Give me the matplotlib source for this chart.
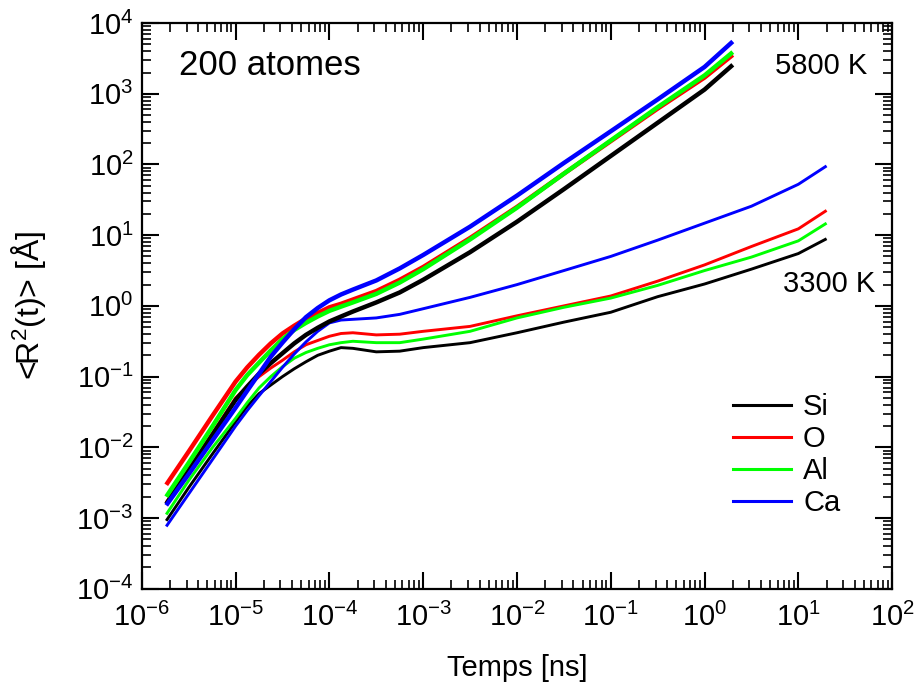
import numpy as np
import matplotlib
matplotlib.use("Agg")
import matplotlib.pyplot as plt
from matplotlib.ticker import LogLocator, NullFormatter, LogFormatterMathtext

plt.rcParams['font.family'] = ['Liberation Sans', 'DejaVu Sans']
plt.rcParams['mathtext.fontset'] = 'custom'
plt.rcParams['mathtext.rm'] = 'Liberation Sans'
plt.rcParams['mathtext.it'] = 'Liberation Sans:italic'
plt.rcParams['mathtext.bf'] = 'Liberation Sans:bold'

# time [ns]
t_5800 = [1.82e-6, 3.16e-6, 5.62e-6, 1.0e-5, 1.33e-5, 1.78e-5, 2.37e-5, 3.16e-5, 4.22e-5,
          5.62e-5, 7.50e-5, 1.0e-4, 1.33e-4, 1.78e-4, 3.16e-4, 5.62e-4, 1e-3, 3.16e-3,
          1e-2, 3.16e-2, 0.1, 0.316, 1.0, 2.0]
t_3300 = [1.82e-6, 3.16e-6, 5.62e-6, 1.0e-5, 1.33e-5, 1.78e-5, 2.37e-5, 3.16e-5, 4.22e-5,
          5.62e-5, 7.50e-5, 1.0e-4, 1.33e-4, 1.78e-4, 3.16e-4, 5.62e-4, 1e-3, 3.16e-3,
          1e-2, 3.16e-2, 0.1, 0.316, 1.0, 3.16, 10.0, 20.0]

# <R^2(t)> [A] at 5800 K
si_5800 = [1.58e-3, 4.68e-3, 1.48e-2, 4.68e-2, 7.24e-2, 0.110, 0.155, 0.214, 0.295,
           0.389, 0.490, 0.603, 0.708, 0.832, 1.12, 1.55, 2.34, 5.75,
           15.5, 44.7, 132, 389, 1148, 2570]
o_5800 = [2.95e-3, 8.71e-3, 2.75e-2, 8.51e-2, 0.135, 0.204, 0.295, 0.407, 0.525,
          0.661, 0.794, 0.955, 1.07, 1.23, 1.62, 2.34, 3.55, 9.12,
          25.1, 74.1, 214, 617, 1698, 3548]
al_5800 = [2.00e-3, 6.03e-3, 1.95e-2, 6.46e-2, 0.105, 0.158, 0.234, 0.339, 0.457,
           0.575, 0.708, 0.851, 0.977, 1.12, 1.48, 2.14, 3.31, 8.71,
           24.5, 74.1, 219, 646, 1820, 3890]
ca_5800 = [1.51e-3, 4.17e-3, 1.23e-2, 3.63e-2, 6.31e-2, 0.110, 0.191, 0.302, 0.468,
           0.692, 0.933, 1.20, 1.45, 1.70, 2.29, 3.39, 5.25, 13.2,
           36.3, 105, 295, 832, 2399, 5495]

# <R^2(t)> [A] at 3300 K
si_3300 = [9.12e-4, 2.69e-3, 7.94e-3, 2.29e-2, 3.80e-2, 5.75e-2, 7.59e-2, 0.100, 0.129,
           0.162, 0.200, 0.229, 0.257, 0.251, 0.224, 0.229, 0.257, 0.302,
           0.417, 0.589, 0.813, 1.35, 2.04, 3.31, 5.50, 8.91]
o_3300 = [1.66e-3, 5.01e-3, 1.58e-2, 5.01e-2, 7.24e-2, 0.100, 0.132, 0.170, 0.224,
          0.282, 0.324, 0.372, 0.407, 0.417, 0.389, 0.398, 0.437, 0.513,
          0.724, 1.00, 1.38, 2.24, 3.80, 6.92, 12.3, 22.4]
al_3300 = [1.12e-3, 3.39e-3, 9.77e-3, 2.57e-2, 4.27e-2, 6.92e-2, 0.100, 0.138, 0.182,
           0.219, 0.251, 0.282, 0.302, 0.316, 0.302, 0.302, 0.339, 0.437,
           0.676, 0.955, 1.29, 1.95, 3.16, 4.90, 8.32, 14.8]
ca_3300 = [7.59e-4, 2.19e-3, 6.61e-3, 2.00e-2, 3.31e-2, 5.37e-2, 8.51e-2, 0.135, 0.209,
           0.309, 0.437, 0.575, 0.631, 0.646, 0.676, 0.759, 0.912, 1.32,
           2.00, 3.16, 5.01, 8.51, 14.8, 25.7, 52.5, 95.5]

species = ['Si', 'O', 'Al', 'Ca']
colors = ['#000000', '#ff0000', '#00ff00', '#0000ff']
series_3300 = [si_3300, o_3300, al_3300, ca_3300]
series_5800 = [si_5800, o_5800, al_5800, ca_5800]

fig = plt.figure(figsize=(9.15, 7.0), dpi=100)
ax = fig.add_axes([0.155, 0.159, 0.82, 0.808])

for ys, c in zip(series_3300, colors):
    ax.plot(t_3300, ys, color=c, lw=2.1, solid_capstyle='butt', solid_joinstyle='round')
for ys, c in zip(series_5800, colors):
    ax.plot(t_5800, ys, color=c, lw=3.2, solid_capstyle='butt', solid_joinstyle='round')

ax.set_xscale('log')
ax.set_yscale('log')
ax.set_xlim(1e-6, 1e2)
ax.set_ylim(1e-4, 1e4)

for axis in (ax.xaxis, ax.yaxis):
    axis.set_major_locator(LogLocator(base=10, numticks=20))
    axis.set_minor_locator(LogLocator(base=10, subs=np.arange(2, 10), numticks=200))
    axis.set_minor_formatter(NullFormatter())
    axis.set_major_formatter(LogFormatterMathtext())

ax.tick_params(which='both', direction='in', top=True, right=True)
ax.tick_params(which='major', length=12, width=1.5, labelsize=21)
ax.tick_params(which='minor', length=6.5, width=1.2)
ax.tick_params(axis='x', which='major', pad=10)
ax.tick_params(axis='y', which='major', pad=6)
for s in ax.spines.values():
    s.set_linewidth(1.6)

fig.text(517 / 915, 1 - 668 / 700, 'Temps [ns]', ha='center', va='center', fontsize=21)
fig.text(29 / 915, 1 - 305 / 700, r'<R$^{2}$(t)> [Å]', ha='center', va='center',
         rotation=90, fontsize=23)

ax.text(0.049, 0.908, '200 atomes', transform=ax.transAxes, fontsize=25,
        ha='left', va='baseline')
ax.text(0.905, 0.924, '5800 K', transform=ax.transAxes, fontsize=21,
        ha='center', va='center')
ax.text(0.916, 0.539, '3300 K', transform=ax.transAxes, fontsize=21,
        ha='center', va='center')

handles = [plt.Line2D([], [], color=c, lw=2.2) for c in colors]
ax.legend(handles, species, loc='upper left', bbox_to_anchor=(0.788, 0.346),
          frameon=False, fontsize=21, handlelength=2.0, handletextpad=0.4,
          labelspacing=0.14, borderpad=0.0, borderaxespad=0.0)

fig.savefig('out.png', dpi=100)
